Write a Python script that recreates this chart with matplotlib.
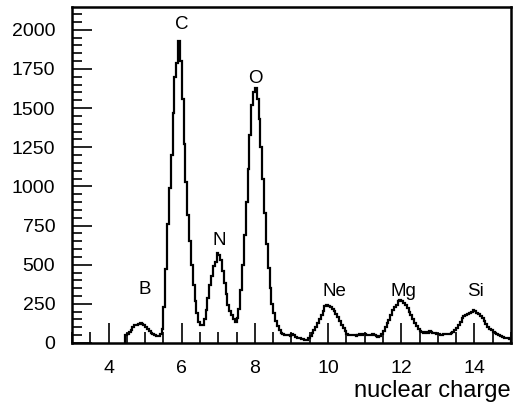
import numpy as np
import matplotlib
matplotlib.use("Agg")
import matplotlib.pyplot as plt
from matplotlib.ticker import MultipleLocator

# histogram: bins of 0.05 in nuclear charge, from 4.45 to 15.0
bin_start = 4.45
bin_stop = 15.0
counts = [
    50, 58, 72, 85, 100, 112, 118, 122, 128, 124,            # 4.45 - 4.95
    112, 102, 88, 75, 66, 58, 52, 45, 42, 60,                # 4.95 - 5.45
    90, 230, 470, 760, 990, 1200, 1470, 1700, 1790, 1930,    # 5.45 - 5.95
    1800, 1560, 1270, 1030, 820, 650, 500, 370, 270, 190,    # 5.95 - 6.45
    135, 118, 115, 150, 210, 290, 370, 430, 490, 520,        # 6.45 - 6.95
    575, 560, 530, 460, 385, 310, 245, 205, 180, 150,        # 6.95 - 7.45
    135, 160, 220, 340, 500, 690, 900, 1110, 1330, 1520,     # 7.45 - 7.95
    1600, 1625, 1560, 1430, 1250, 1050, 830, 630, 480, 350,  # 7.95 - 8.45
    250, 190, 140, 108, 80, 64, 55, 52, 48, 52,              # 8.45 - 8.95
    45, 55, 48, 40, 35, 30, 28, 24, 20, 22,                  # 8.95 - 9.45
    30, 45, 62, 85, 105, 128, 150, 180, 205, 235,            # 9.45 - 9.95
    240, 236, 228, 216, 205, 188, 165, 140, 115, 95,         # 9.95 - 10.45
    75, 60, 52, 50, 48, 50, 46, 54, 55, 50,                  # 10.45 - 10.95
    60, 58, 50, 48, 52, 55, 53, 45, 40, 42,                  # 10.95 - 11.45
    55, 75, 100, 125, 148, 180, 210, 232, 245, 265,          # 11.45 - 11.95
    272, 268, 258, 243, 222, 200, 176, 152, 128, 108,        # 11.95 - 12.45
    88, 75, 70, 66, 70, 64, 74, 68, 64, 62,                  # 12.45 - 12.95
    58, 55, 52, 52, 55, 57, 56, 58, 62, 70,                  # 12.95 - 13.45
    80, 95, 115, 135, 158, 172, 180, 186, 192, 200,          # 13.45 - 13.95
    212, 205, 194, 185, 172, 158, 138, 120, 105, 92,         # 13.95 - 14.45
    80, 70, 62, 55, 50, 42, 36, 32, 30, 30,                  # 14.45 - 14.95
    28,                                                      # 14.95 - 15.0
]

# element labels above the peaks
elements = ["B", "C", "N", "O", "Ne", "Mg", "Si"]
label_x = [4.99, 5.99, 7.02, 8.02, 10.18, 12.07, 14.03]
label_y = [339, 2032, 654, 1691, 328, 328, 328]

plt.rcParams['font.family'] = ['Liberation Sans', 'DejaVu Sans']

fig = plt.figure(figsize=(5.21, 4.13), dpi=100)
ax = fig.add_axes([0.1382, 0.1695, 0.8426, 0.8136])

edges = np.linspace(bin_start, bin_stop, len(counts) + 1)
ax.stairs(counts, edges, baseline=0, color='black', linewidth=1.6)

for name, x, y in zip(elements, label_x, label_y):
    ax.text(x, y, name, ha='center', va='center', fontsize=13.5)

ax.set_xlim(3, 15)
ax.set_ylim(0, 2145)

ax.xaxis.set_major_locator(MultipleLocator(2))
ax.xaxis.set_minor_locator(MultipleLocator(0.5))
ax.yaxis.set_major_locator(MultipleLocator(250))
ax.yaxis.set_minor_locator(MultipleLocator(50))

ax.tick_params(axis='x', which='major', direction='in', length=14.5, width=1.2,
               labelsize=14, pad=12.5)
ax.tick_params(axis='x', which='minor', direction='in', length=8, width=1.2)
ax.tick_params(axis='y', which='major', direction='in', length=14.5, width=1.2,
               labelsize=14, pad=12)
ax.tick_params(axis='y', which='minor', direction='in', length=7, width=1.2)

for spine in ax.spines.values():
    spine.set_linewidth(1.8)

ax.set_xlabel('nuclear charge', fontsize=17, loc='right', labelpad=2)

fig.savefig('out.png', dpi=100)
